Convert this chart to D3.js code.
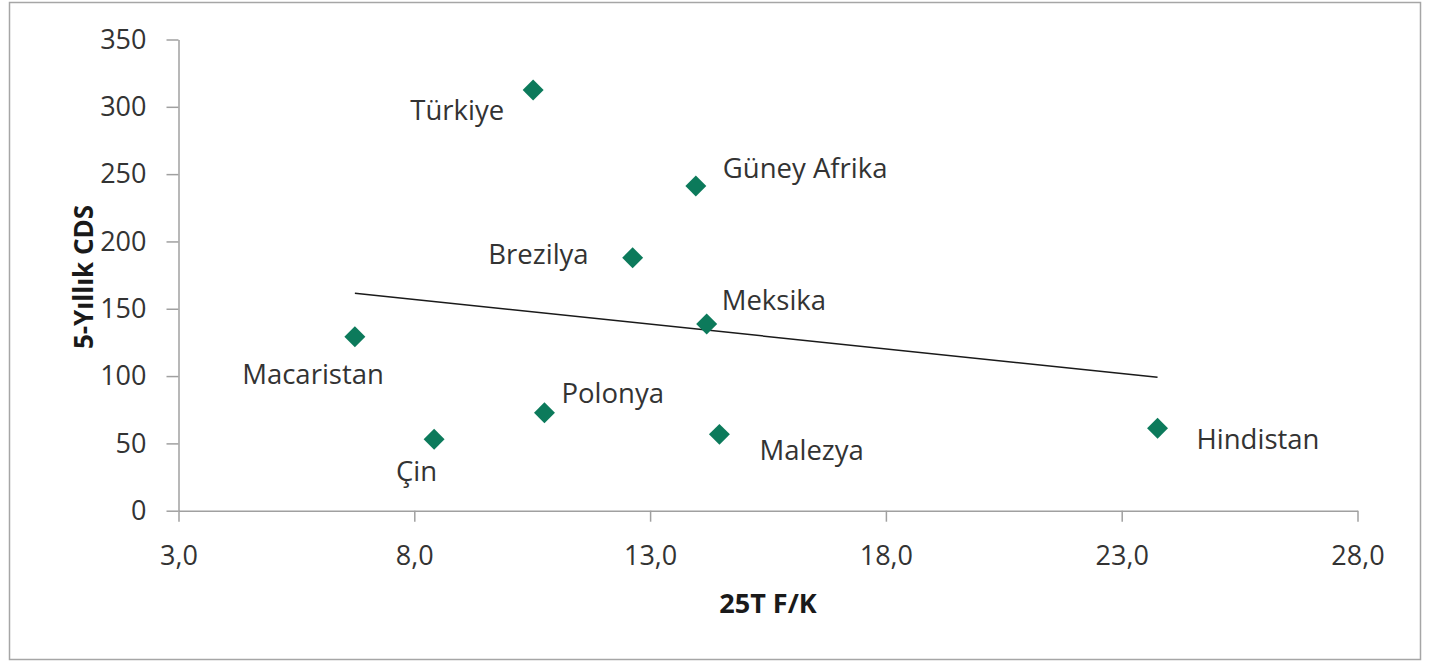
<!DOCTYPE html>
<html lang="tr">
<head>
<meta charset="utf-8">
<script src="https://cdn.jsdelivr.net/npm/d3@7/dist/d3.min.js"></script>
<style>
  html, body { margin: 0; padding: 0; background: #fff; }
  svg { display: block; font-family: "Open Sans", "DejaVu Sans", sans-serif; }
</style>
</head>
<body>
<svg id="chart" width="1439" height="662"></svg>
<script>
// Ülkeler: 25T F/K ve 5 yıllık CDS
const countries = ["Türkiye", "Güney Afrika", "Brezilya", "Meksika", "Macaristan", "Polonya", "Çin", "Malezya", "Hindistan"];
const peValues  = [10.52, 13.97, 12.63, 14.20, 6.74, 10.76, 8.42, 14.47, 23.76];
const cdsValues = [312.5, 241.2, 187.9, 138.7, 129.2, 72.8, 53.0, 56.7, 61.2];

// Doğrusal eğilim çizgisinin uç değerleri (CDS)
const trendCds = [161.5, 99.1];

const xTicks = [3, 8, 13, 18, 23, 28];
const yTicks = [0, 50, 100, 150, 200, 250, 300, 350];
const xTitle = "25T F/K";
const yTitle = "5-Yıllık CDS";

// Etiket yerleşimi (nokta merkezine göre kaydırma, yazı hizası)
const labelLayout = {
  "Türkiye":      { dx: -29, dy: 30,  anchor: "end" },
  "Güney Afrika": { dx: 27,  dy: -8,  anchor: "start" },
  "Brezilya":     { dx: -44, dy: 6,   anchor: "end" },
  "Meksika":      { dx: 15,  dy: -14, anchor: "start" },
  "Macaristan":   { dx: 29,  dy: 47,  anchor: "end" },
  "Polonya":      { dx: 17,  dy: -10, anchor: "start" },
  "Çin":          { dx: 3,   dy: 42,  anchor: "end" },
  "Malezya":      { dx: 40,  dy: 26,  anchor: "start" },
  "Hindistan":    { dx: 39,  dy: 21,  anchor: "start" }
};

const svg = d3.select("#chart");
const textColor = "#333333";
const axisColor = "#a0a0a0";
const fontSize = 27.5;

// Dış çerçeve
svg.append("rect")
  .attr("x", 9.5).attr("y", 2.5)
  .attr("width", 1411).attr("height", 657)
  .attr("fill", "#fff")
  .attr("stroke", "#a6a6a6")
  .attr("stroke-width", 1.5);

const plot = { left: 178.5, right: 1357.5, top: 39.5, bottom: 510.7 };

const x = d3.scaleLinear().domain([3, 28]).range([plot.left, plot.right]);
const y = d3.scaleLinear().domain([0, 350]).range([plot.bottom, plot.top]);

const fmtX = v => d3.format(".1f")(v).replace(".", ",");

// Y ekseni
const yAxis = svg.append("g")
  .attr("transform", `translate(${plot.left},0)`)
  .call(d3.axisLeft(y).tickValues(yTicks).tickSize(12).tickPadding(20).tickSizeOuter(0));
// X ekseni
const xAxis = svg.append("g")
  .attr("transform", `translate(0,${plot.bottom})`)
  .call(d3.axisBottom(x).tickValues(xTicks).tickFormat(fmtX).tickSize(11).tickPadding(24).tickSizeOuter(0));

[yAxis, xAxis].forEach(g => {
  g.select(".domain").attr("stroke", axisColor).attr("stroke-width", 1.5);
  g.selectAll(".tick line").attr("stroke", axisColor).attr("stroke-width", 1.5);
  g.selectAll(".tick text")
    .attr("fill", textColor)
    .style("font-size", "27px")
    .style("font-family", "'Open Sans', sans-serif");
});

// Eksen başlıkları
svg.append("text")
  .attr("x", (plot.left + plot.right) / 2)
  .attr("y", 613)
  .attr("text-anchor", "middle")
  .attr("fill", "#1a1a1a")
  .style("font-size", "27px")
  .style("font-weight", "bold")
  .text(xTitle);

svg.append("text")
  .attr("transform", `translate(${84},${277}) rotate(-90)`)
  .attr("text-anchor", "middle")
  .attr("dy", "0.35em")
  .attr("fill", "#1a1a1a")
  .style("font-size", "26px")
  .style("font-weight", "bold")
  .text(yTitle);

const data = countries.map((c, i) => ({ name: c, pe: peValues[i], cds: cdsValues[i] }));

// Eğilim çizgisi
const peExtent = d3.extent(peValues);
svg.append("path")
  .datum([[peExtent[0], trendCds[0]], [peExtent[1], trendCds[1]]])
  .attr("d", d3.line().x(d => x(d[0])).y(d => y(d[1])))
  .attr("fill", "none")
  .attr("stroke", "#1a1a1a")
  .attr("stroke-width", 1.5);

// Noktalar (eşkenar dörtgen)
svg.append("g").selectAll("path.pt")
  .data(data)
  .join("path")
  .attr("class", "pt")
  .attr("d", d3.symbol().type(d3.symbolDiamond2).size(280))
  .attr("transform", d => `translate(${x(d.pe)},${y(d.cds)})`)
  .attr("fill", "#0c7a5b");

// Ülke etiketleri
svg.append("g").selectAll("text.lbl")
  .data(data)
  .join("text")
  .attr("class", "lbl")
  .attr("x", d => x(d.pe) + labelLayout[d.name].dx)
  .attr("y", d => y(d.cds) + labelLayout[d.name].dy)
  .attr("text-anchor", d => labelLayout[d.name].anchor)
  .attr("fill", textColor)
  .style("font-size", fontSize + "px")
  .text(d => d.name);
</script>
</body>
</html>
